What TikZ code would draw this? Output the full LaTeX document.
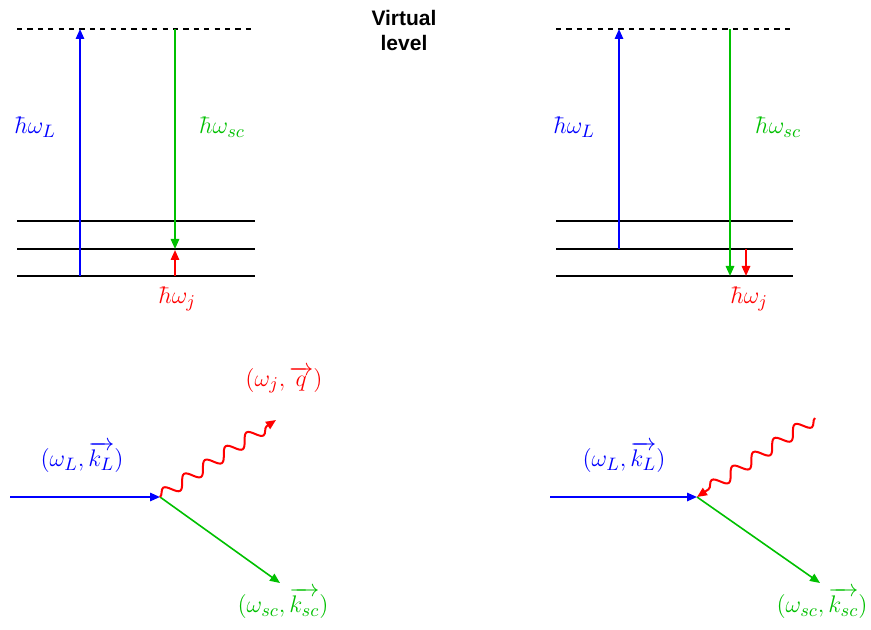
\documentclass[tikz,border=0pt]{standalone}
\usepackage{amsmath}
\usepackage{fontspec}
\setsansfont{Liberation Sans}
\usetikzlibrary{arrows.meta,decorations.pathmorphing}
\definecolor{laser}{HTML}{0000FF}
\definecolor{scatt}{HTML}{00C000}
\definecolor{phonon}{HTML}{FF0000}

\begin{document}
\begin{tikzpicture}[x=0.5pt,y=-0.5pt,>={Triangle[length=5pt,width=4.2pt]},
    level/.style={line width=0.6pt},
    virt/.style={level,dash pattern=on 2.6pt off 2.6pt},
    trans/.style={->,line width=0.9pt},
    wave/.style={->,line width=1pt,decorate,
      decoration={snake,amplitude=3pt,segment length=12.5pt,post length=4pt}},
    lab/.style={font=\fontsize{12.5}{15}\selectfont}]
  \useasboundingbox (0,0) rectangle (871,630);
  % energy levels, Stokes (left) and anti-Stokes (right)
  \foreach \xa/\xb in {17/255,556/793} {
    \draw[virt] (\xa,29) -- (\xb,29);
    \foreach \y in {221,249,276}
      \draw[level] (\xa,\y) -- (\xb,\y);
  }
  \node[font=\sffamily\bfseries\fontsize{10.5}{12.5}\selectfont,align=center] (virtual) at (404,30) {Virtual\\level};

  % Stokes
  \coordinate (sL0) at (80,276);   \coordinate (sL1) at (80,29);
  \coordinate (sS0) at (175,29);   \coordinate (sS1) at (175,249);
  \coordinate (sJ0) at (175,276);  \coordinate (sJ1) at (175,250);
  \draw[trans,laser] (sL0) -- (sL1);
  \draw[trans,scatt] (sS0) -- (sS1);
  \draw[trans,phonon] (sJ0) -- (sJ1);
  \node[lab,laser] (sLlab) at (35,127) {$\hbar\omega_L$};
  \node[lab,scatt] (sSlab) at (222,127) {$\hbar\omega_{sc}$};
  \node[lab,phonon] (sJlab) at (177,299) {$\hbar\omega_j$};

  % anti-Stokes
  \coordinate (aL0) at (619,249);  \coordinate (aL1) at (619,29);
  \coordinate (aS0) at (730,29);   \coordinate (aS1) at (730,276);
  \coordinate (aJ0) at (746,249);  \coordinate (aJ1) at (746,276);
  \draw[trans,laser] (aL0) -- (aL1);
  \draw[trans,scatt] (aS0) -- (aS1);
  \draw[trans,phonon] (aJ0) -- (aJ1);
  \node[lab,laser] (aLlab) at (574,127) {$\hbar\omega_L$};
  \node[lab,scatt] (aSlab) at (778,127) {$\hbar\omega_{sc}$};
  \node[lab,phonon] (aJlab) at (749,299) {$\hbar\omega_j$};

  % scattering vertices
  \coordinate (sIn) at (10,497);   \coordinate (sV) at (160,497);
  \coordinate (sOut) at (280,583); \coordinate (sQ) at (276,420);
  \draw[trans,laser] (sIn) -- (sV);
  \draw[trans,scatt,line width=0.8pt] (sV) -- (sOut);
  \draw[wave,phonon] (sV) -- (sQ);
  \node[lab,laser] (sklab) at (82,457) {$(\omega_L,\overrightarrow{k_L})$};
  \node[lab,phonon] (sqlab) at (284,380) {$(\omega_j,\overrightarrow{q})$};
  \node[lab,scatt] (skslab) at (283,603) {$(\omega_{sc},\overrightarrow{k_{sc}})$};

  \coordinate (aIn) at (550,497);  \coordinate (aV) at (697,497);
  \coordinate (aOut) at (820,583); \coordinate (aQ) at (815,418);
  \draw[trans,laser] (aIn) -- (aV);
  \draw[trans,scatt,line width=0.8pt] (aV) -- (aOut);
  \draw[wave,phonon] (aQ) -- (aV);
  \node[lab,laser] (aklab) at (624,457) {$(\omega_L,\overrightarrow{k_L})$};
  \node[lab,scatt] (akslab) at (822,603) {$(\omega_{sc},\overrightarrow{k_{sc}})$};
\end{tikzpicture}
\end{document}
